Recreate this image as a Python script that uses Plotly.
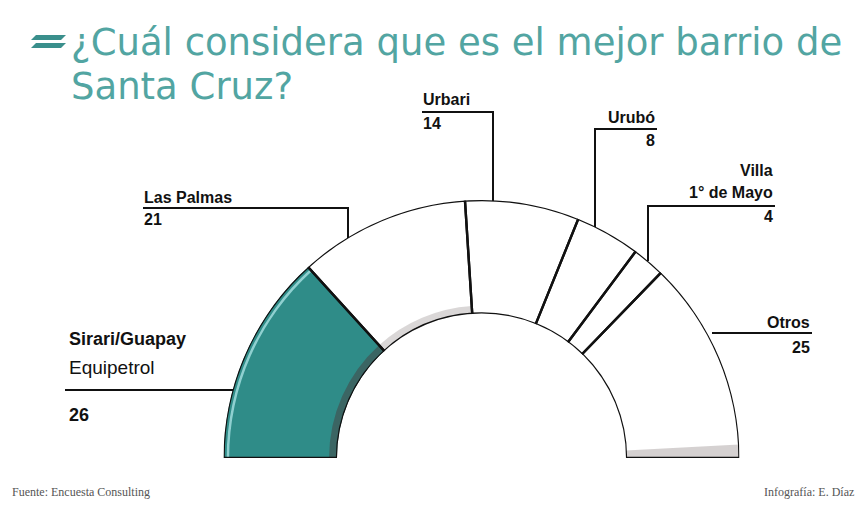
import plotly.graph_objects as go

# ---- data ----
categories = ["Sirari/Guapay<br>Equipetrol", "Las Palmas", "Urbari", "Urubó", "Villa<br>1° de Mayo", "Otros"]
values = [26, 21, 14, 8, 4, 25]
slice_colors = ["#2f8c88", "#ffffff", "#ffffff", "#ffffff", "#ffffff", "#ffffff"]

title_line1 = "¿Cuál considera que es el mejor barrio de"
title_line2 = "Santa Cruz?"
footer_left = "Fuente: Encuesta Consulting"
footer_right = "Infografía: E. Díaz"

W, H = 858, 506


def px(x):
    return x / W


def py(y):
    return 1 - y / H


total = sum(values)
spans = [v / total * 180 for v in values]
centers = []
acc = 0
for s in spans:
    centers.append(acc + s / 2)
    acc += s

fig = go.Figure()

# filled slices
fig.add_trace(go.Barpolar(
    r=[1] * len(values), theta=centers, width=spans,
    marker=dict(color=slice_colors, line=dict(width=0)),
    hoverinfo="skip", showlegend=False))

# shadow along inner edge of the first two slices
fig.add_trace(go.Barpolar(
    r=[0.07, 0.07], base=[0, 0],
    theta=centers[:2], width=spans[:2],
    marker=dict(color=["rgba(70,70,70,0.55)", "rgba(150,140,140,0.35)"], line=dict(width=0)),
    hoverinfo="skip", showlegend=False))

# shadow along the bottom edge of the last slice
fig.add_trace(go.Barpolar(
    r=[1], base=[0], theta=[180 - 1.5], width=[3],
    marker=dict(color="rgba(150,140,140,0.4)", line=dict(width=0)),
    hoverinfo="skip", showlegend=False))

# highlight on teal slice outer edge
fig.add_trace(go.Barpolar(
    r=[0.022], base=[0.95], theta=[centers[0]], width=[spans[0]],
    marker=dict(color="#8fd0d0", line=dict(width=0)),
    hoverinfo="skip", showlegend=False))

# outlines
fig.add_trace(go.Barpolar(
    r=[1] * len(values), theta=centers, width=spans,
    marker=dict(color="rgba(0,0,0,0)", line=dict(color="#111111", width=2.4)),
    hoverinfo="skip", showlegend=False))

fig.update_layout(
    width=W, height=H,
    margin=dict(l=0, r=0, t=0, b=0),
    paper_bgcolor="white",
    plot_bgcolor="white",
    polar=dict(
        domain=dict(x=[px(223), px(740)], y=[py(458), py(200)]),
        sector=[0, 180],
        hole=0.56,
        bgcolor="rgba(0,0,0,0)",
        radialaxis=dict(visible=False, range=[0, 1]),
        angularaxis=dict(visible=False, rotation=180, direction="clockwise"),
        barmode="overlay",
    ),
)

# leader lines (pixel coordinates of the graphic)
segments = [
    (65, 390, 233, 390),
    (143, 208, 349, 208), (348, 207, 348, 238),
    (422, 112, 494, 112), (493, 111, 493, 201),
    (594, 129, 657, 129), (595, 128, 595, 227),
    (647, 206, 775, 206), (648, 205, 648, 261),
    (712, 333, 812, 333),
]
for x0, y0, x1, y1 in segments:
    fig.add_shape(type="line", xref="paper", yref="paper",
                  x0=px(x0), y0=py(y0), x1=px(x1), y1=py(y1),
                  line=dict(color="#111111", width=2))

# title icon (two slanted bars)
for (yt, yb) in [(35, 40), (43, 48)]:
    path = "M {} {} L {} {} L {} {} L {} {} Z".format(
        px(31), py(yb), px(36), py(yt), px(66), py(yt), px(61), py(yb))
    fig.add_shape(type="path", xref="paper", yref="paper", path=path,
                  fillcolor="#3a8f8c", line=dict(width=0))

ann = []
title_font = dict(family="DejaVu Sans", size=37, color="#52a5a2")
ann.append(dict(text=title_line1, x=px(69), y=py(43), xanchor="left", yanchor="middle",
                font=title_font))
ann.append(dict(text=title_line2, x=px(69), y=py(86), xanchor="left", yanchor="middle",
                font=title_font))

lab_font = "Liberation Sans, Arial, sans-serif"
big_b = dict(family=lab_font, size=18, color="#111111")
big_r = dict(family=lab_font, size=19, color="#111111")
small = dict(family=lab_font, size=16, color="#111111")

# Sirari / Equipetrol
ann.append(dict(text="<b>Sirari/Guapay</b>", x=px(67), y=py(339), xanchor="left", yanchor="middle", font=big_b))
ann.append(dict(text="Equipetrol", x=px(67), y=py(367), xanchor="left", yanchor="middle", font=big_r))
ann.append(dict(text="<b>%d</b>" % values[0], x=px(67), y=py(415), xanchor="left", yanchor="middle", font=big_b))
# Las Palmas
ann.append(dict(text="<b>Las Palmas</b>", x=px(142), y=py(197), xanchor="left", yanchor="middle", font=small))
ann.append(dict(text="<b>%d</b>" % values[1], x=px(142), y=py(220), xanchor="left", yanchor="middle", font=small))
# Urbari
ann.append(dict(text="<b>Urbari</b>", x=px(421), y=py(100), xanchor="left", yanchor="middle", font=small))
ann.append(dict(text="<b>%d</b>" % values[2], x=px(421), y=py(123), xanchor="left", yanchor="middle", font=small))
# Urubó
ann.append(dict(text="<b>Urubó</b>", x=px(657), y=py(117), xanchor="right", yanchor="middle", font=small))
ann.append(dict(text="<b>%d</b>" % values[3], x=px(657), y=py(141), xanchor="right", yanchor="middle", font=small))
# Villa 1° de Mayo
ann.append(dict(text="<b>Villa</b>", x=px(775), y=py(170), xanchor="right", yanchor="middle", font=small))
ann.append(dict(text="<b>1° de Mayo</b>", x=px(775), y=py(192), xanchor="right", yanchor="middle", font=small))
ann.append(dict(text="<b>%d</b>" % values[4], x=px(775), y=py(217), xanchor="right", yanchor="middle", font=small))
# Otros
ann.append(dict(text="<b>Otros</b>", x=px(812), y=py(322), xanchor="right", yanchor="middle", font=small))
ann.append(dict(text="<b>%d</b>" % values[5], x=px(812), y=py(347), xanchor="right", yanchor="middle", font=small))

foot = dict(family="Liberation Serif, serif", size=12, color="#555555")
ann.append(dict(text=footer_left, x=px(10), y=py(492), xanchor="left", yanchor="middle", font=foot))
ann.append(dict(text=footer_right, x=px(856), y=py(492), xanchor="right", yanchor="middle", font=foot))

for a in ann:
    a.update(xref="paper", yref="paper", showarrow=False)
fig.update_layout(annotations=ann)

fig.write_html("out.html", config={"displayModeBar": False},
               post_script="document.body.style.margin='0';")
